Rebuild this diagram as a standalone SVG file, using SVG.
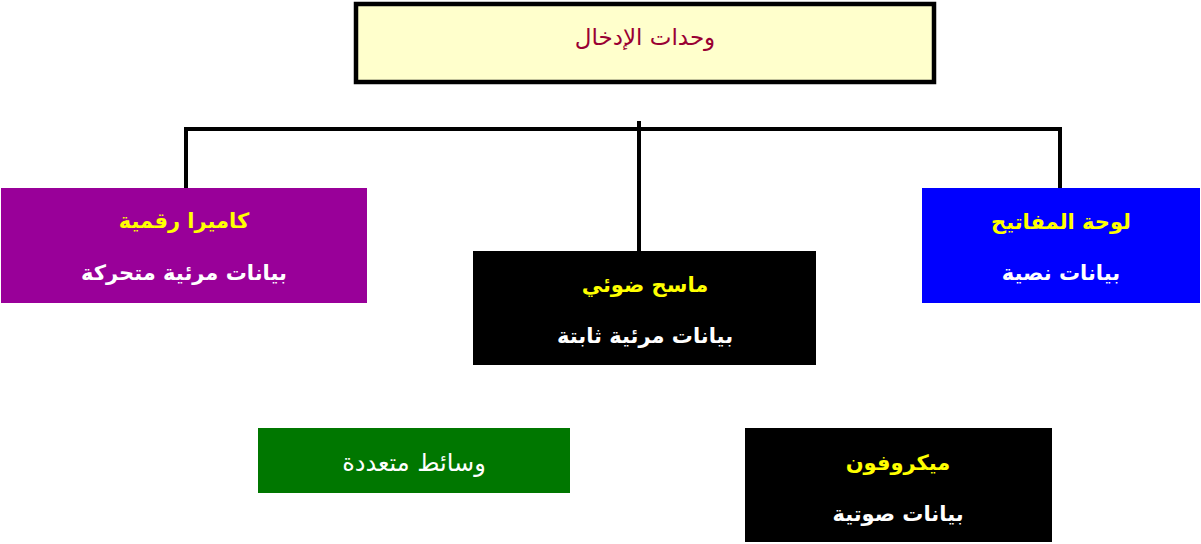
<svg xmlns="http://www.w3.org/2000/svg" width="1201" height="544" viewBox="0 0 1201 544">
<style>
text{font-family:"DejaVu Sans","Noto Sans",sans-serif;text-anchor:middle;direction:rtl}
.t{fill:#FFFF00;font-size:21px;font-weight:bold}
.s{fill:#FFFFFF;font-size:21px;font-weight:bold}
.c{stroke:#000;stroke-width:4;fill:none}
</style>
<rect width="1201" height="544" fill="#fff"/>
<g id="connectors">
<path class="c" d="M186 188V129H1060V188"/>
<path class="c" d="M639 121V251"/>
</g>
<g id="root">
<rect x="356" y="4" width="578" height="78" fill="#FFFFCC" stroke="#000" stroke-width="4.5"/>
<text x="645" y="45" style="fill:#990033;font-size:23px">وحدات الإدخال</text>
</g>
<g id="camera">
<rect x="1" y="188" width="366" height="115" fill="#990099"/>
<text class="t" x="184" y="228">كاميرا رقمية</text>
<text class="s" x="184" y="280">بيانات مرئية متحركة</text>
</g>
<g id="scanner">
<rect x="473" y="251" width="343" height="114" fill="#000"/>
<text class="t" x="645" y="292">ماسح ضوئي</text>
<text class="s" x="645" y="343">بيانات مرئية ثابتة</text>
</g>
<g id="keyboard">
<rect x="922" y="188" width="278" height="115" fill="#0000FF"/>
<text class="t" x="1061" y="229">لوحة المفاتيح</text>
<text class="s" x="1061" y="280">بيانات نصية</text>
</g>
<g id="multimedia">
<rect x="258" y="428" width="312" height="65" fill="#007700"/>
<text x="414" y="471" style="fill:#fff;font-size:24px">وسائط متعددة</text>
</g>
<g id="microphone">
<rect x="745" y="428" width="307" height="114" fill="#000"/>
<text class="t" x="898" y="470">ميكروفون</text>
<text class="s" x="898" y="521">بيانات صوتية</text>
</g>
</svg>
